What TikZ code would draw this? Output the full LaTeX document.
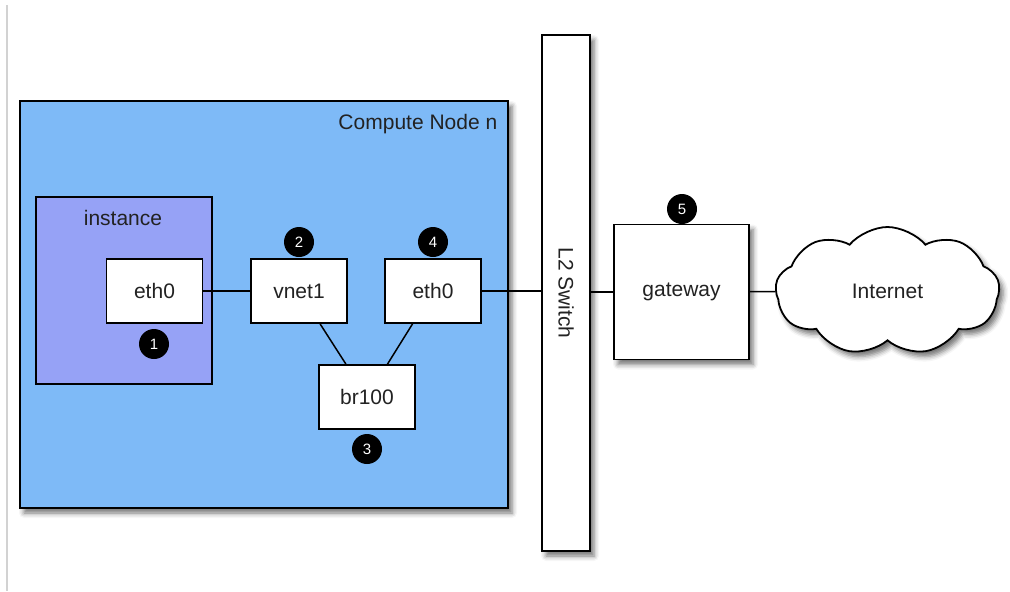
\documentclass[tikz,border=0pt]{standalone}
\usepackage{fontspec}
\setmainfont{Liberation Sans}
\usepackage{xcolor}
\usetikzlibrary{shapes,shapes.symbols,positioning,calc,shadows.blur}
\definecolor{computeblue}{RGB}{126,186,247}
\definecolor{instviolet}{RGB}{150,162,246}
\definecolor{labelgray}{RGB}{34,34,34}

\tikzset{
  softshadow/.style={blur shadow={shadow xshift=2pt,shadow yshift=-2.5pt,shadow blur radius=2.5pt,shadow opacity=55}},
  iface/.style={draw, line width=0.9pt, fill=white, minimum width=48pt, minimum height=32pt, inner sep=0pt, text=labelgray},
  badge/.style={circle, fill=black, minimum size=15pt, inner sep=0pt, text=white, font=\fontsize{7.5}{8}\selectfont},
}

\begin{document}
\begin{tikzpicture}[x=0.5pt,y=-0.5pt,font=\fontsize{10.5}{12}\selectfont,line width=0.75pt]
    \useasboundingbox (0,0) rectangle (1010,591);
    % page edge
    \draw[gray!35, line width=1pt] (7,5) -- (7,591);

    % Compute node
    \node[draw, line width=0.9pt, fill=computeblue, softshadow, minimum width=244pt, minimum height=203.5pt, inner sep=0pt] (compute) at (264,304.5) {};
    \node[anchor=east, inner sep=0pt, text=labelgray] (computelbl) at (498,124) {Compute Node n};

    % instance
    \node[draw, line width=0.9pt, fill=instviolet, minimum width=88pt, minimum height=93.5pt, inner sep=0pt] (instance) at (124,290.5) {};
    \node[text=labelgray] (instlbl) at (123,218) {instance};

    % Interfaces
    \node[iface] (eth0a) at (154.5,291) {eth0};
    \node[iface] (vnet1) at (299,291) {vnet1};
    \node[iface] (eth0b) at (433,291) {eth0};
    \node[iface] (br100) at (367,397) {br100};

    % Switch, gateway, internet
    \node[draw, line width=0.9pt, fill=white, softshadow, minimum width=24pt, minimum height=258pt, inner sep=0pt, text=labelgray] (switch) at (566,293) {\rotatebox{-90}{L2 Switch}};
    \node[draw, line width=0.9pt, fill=white, softshadow, minimum size=67.5pt, inner sep=0pt, text=labelgray] (gateway) at (681.5,292) {gateway};
    \node[cloud, cloud puffs=9, cloud puff arc=100, cloud ignores aspect, draw, line width=0.9pt, fill=white, softshadow, minimum width=112pt, minimum height=64pt, inner sep=0pt, text=labelgray] (internet) at (887.5,291) {Internet};

    % Links
    \draw (eth0a) -- (vnet1);
    \draw (vnet1) -- (br100);
    \draw (eth0b) -- (br100);
    \draw (eth0b.east) -- (eth0b.east -| switch.west);
    \draw (gateway.west -| switch.east) -- (gateway.west);
    \draw (gateway) -- (internet);

    % Steps
    \node[badge] (b1) at (154,344) {1};
    \node[badge] (b2) at (299,242) {2};
    \node[badge] (b3) at (367,449) {3};
    \node[badge] (b4) at (433,242) {4};
    \node[badge] (b5) at (682,209) {5};
\end{tikzpicture}
\end{document}
